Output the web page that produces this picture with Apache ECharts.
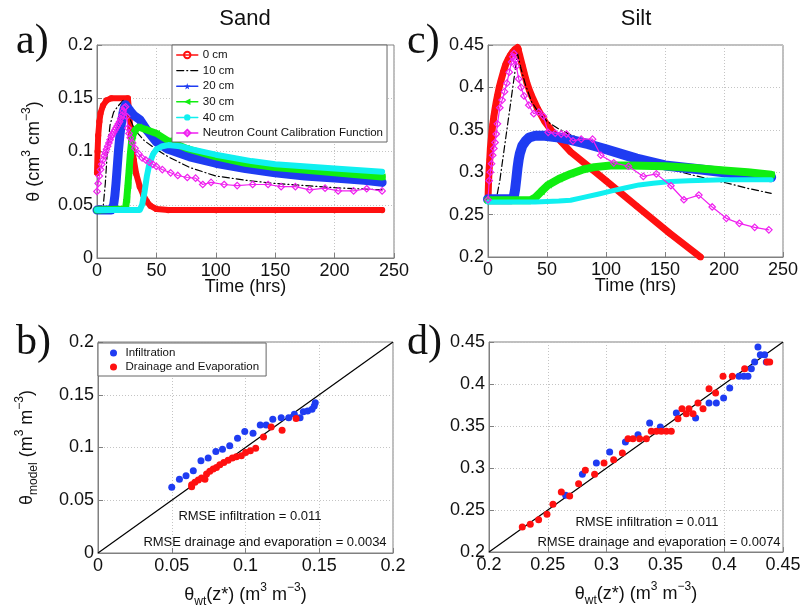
<!DOCTYPE html>
<html><head><meta charset="utf-8">
<script src="https://cdn.jsdelivr.net/npm/echarts@6/dist/echarts.min.js"></script>
<style>html,body{margin:0;padding:0;background:#fff}#c{width:806px;height:614px}</style>
</head><body><div id="c"></div>
<script>
// ---------- DATA ----------
const seriesNames = ['0 cm','10 cm','20 cm','30 cm','40 cm','Neutron Count Calibration Function'];
const scatterNames = ['Infiltration','Drainage and Evaporation'];
const timeTicks = [0, 250, 50];
const sandTicks = [0, 0.2, 0.05];
const siltTicks = [0.2, 0.45, 0.05];

const sand0 = [[0,0.08],[0.5,0.1],[1,0.115],[2,0.128],[3,0.136],[5,0.143],[8,0.148],[12,0.15],[26,0.15],[27,0.138],[28,0.122],[29,0.11],[31,0.092],[33,0.079],[36,0.067],[39,0.059],[42,0.053],[45,0.049],[50,0.046],[60,0.045],[100,0.045],[150,0.045],[200,0.045],[240,0.045]];
const sand10 = [[0,0.045],[5,0.046],[7,0.07],[9,0.105],[11,0.125],[14,0.137],[18,0.143],[22,0.148],[25,0.142],[28,0.13],[32,0.12],[40,0.11],[50,0.102],[60,0.095],[78,0.085],[100,0.077],[125,0.073],[150,0.07],[200,0.066],[240,0.064]];
const sand20 = [[0,0.045],[12,0.045],[14,0.05],[15,0.058],[16,0.07],[17,0.085],[18,0.1],[19,0.112],[20,0.122],[21,0.13],[22,0.137],[23,0.141],[24,0.144],[26,0.141],[28,0.138],[31,0.134],[36,0.13],[42,0.12],[50,0.109],[60,0.102],[78,0.095],[100,0.089],[125,0.084],[150,0.08],[175,0.077],[200,0.075],[225,0.073],[240,0.071]];
const sand30 = [[0,0.045],[24,0.046],[25,0.055],[26,0.068],[27,0.082],[28,0.097],[29,0.108],[30,0.115],[32,0.12],[35,0.123],[40,0.121],[50,0.117],[60,0.11],[75,0.103],[100,0.095],[125,0.089],[150,0.085],[200,0.08],[240,0.076]];
const sand40 = [[0,0.045],[36,0.045],[38,0.05],[40,0.062],[42,0.077],[44,0.088],[47,0.097],[50,0.102],[55,0.105],[60,0.106],[70,0.105],[80,0.102],[100,0.097],[130,0.091],[150,0.088],[200,0.084],[240,0.081]];
const sandNeutron = [[0,0.0625],[1,0.07],[2,0.077],[3,0.083],[4,0.088],[5,0.092],[6,0.096],[7,0.099],[8,0.102],[9,0.105],[10,0.108],[11,0.111],[12,0.114],[13,0.116],[14,0.118],[15,0.12],[16,0.122],[17,0.124],[18,0.126],[19,0.128],[20,0.131],[21,0.134],[22,0.138],[23,0.141],[24,0.142],[25,0.133],[26,0.122],[27,0.117],[28,0.113],[30,0.108],[32,0.103],[35,0.098],[38,0.094],[41,0.092],[44,0.09],[47,0.088],[50,0.086],[55,0.083],[62,0.08],[68,0.0775],[76,0.0756],[83,0.075],[89,0.069],[96,0.071],[107,0.069],[118,0.068],[131,0.069],[144,0.069],[155,0.067],[167,0.067],[179,0.064],[192,0.0656],[203,0.063],[216,0.063],[227,0.065],[240,0.063]];

const silt0 = [[0,0.267],[0.5,0.29],[1,0.305],[1.5,0.315],[2,0.328],[3,0.342],[4,0.356],[5,0.366],[6,0.375],[7,0.383],[8,0.39],[9.5,0.4],[11,0.408],[13,0.418],[15,0.427],[17,0.433],[19,0.438],[21,0.442],[23,0.445],[25,0.447],[26,0.445],[27,0.437],[29,0.426],[31,0.415],[33,0.405],[35,0.397],[37,0.39],[42,0.375],[48,0.36],[55,0.347],[62,0.336],[70,0.324],[85,0.307],[100,0.29],[126,0.26],[154,0.228],[180,0.2]];
const silt10 = [[0,0.265],[7,0.268],[10,0.29],[14,0.33],[18,0.37],[22,0.41],[25,0.44],[28,0.422],[32,0.402],[37,0.383],[43,0.37],[50,0.36],[60,0.351],[70,0.344],[85,0.336],[100,0.327],[125,0.316],[150,0.305],[175,0.296],[200,0.288],[220,0.281],[240,0.275]];
const silt20 = [[0,0.268],[20,0.268],[22,0.272],[23,0.28],[24,0.292],[25,0.305],[26,0.315],[27,0.322],[29,0.331],[32,0.337],[35,0.341],[40,0.343],[48,0.343],[60,0.341],[70,0.338],[85,0.333],[100,0.327],[126,0.316],[150,0.308],[175,0.304],[200,0.3],[220,0.297],[240,0.294]];
const silt30 = [[0,0.267],[36,0.267],[40,0.27],[45,0.277],[51,0.285],[60,0.292],[70,0.298],[80,0.303],[90,0.306],[104,0.308],[120,0.308],[150,0.307],[175,0.305],[200,0.302],[220,0.3],[240,0.297]];
const silt40 = [[0,0.265],[40,0.265],[60,0.266],[70,0.267],[80,0.27],[93,0.274],[105,0.278],[115,0.281],[128,0.285],[140,0.287],[155,0.289],[170,0.29],[200,0.291],[240,0.291]];
const siltNeutron = [[0,0.2675],[1,0.29],[2,0.3],[3,0.31],[4,0.32],[5,0.328],[6,0.335],[7,0.345],[8,0.357],[10,0.376],[12,0.385],[14,0.395],[16,0.405],[18,0.418],[20,0.43],[21,0.436],[22,0.44],[23,0.432],[24,0.425],[26,0.41],[28,0.4],[30.5,0.39],[34.6,0.379],[38.8,0.369],[43,0.371],[47,0.366],[51,0.347],[57,0.346],[62,0.345],[66.5,0.345],[72,0.337],[79,0.339],[88.6,0.339],[95.6,0.32],[106.6,0.311],[119,0.307],[131.6,0.295],[142.7,0.298],[155,0.284],[166,0.2675],[178.7,0.273],[190,0.259],[202,0.2456],[213,0.2397],[226,0.235],[238,0.232]];

const sandInfil = [[0.05,0.0623],[0.0552,0.0698],[0.0597,0.0733],[0.0646,0.078],[0.0698,0.0874],[0.0747,0.09],[0.0799,0.0962],[0.0844,0.0984],[0.0893,0.1016],[0.0946,0.1088],[0.0995,0.1151],[0.1051,0.1135],[0.11,0.1214],[0.114,0.1214],[0.1185,0.1267],[0.1242,0.1283],[0.1293,0.1283],[0.1331,0.1314],[0.137,0.1283],[0.1392,0.134],[0.1421,0.1346],[0.1451,0.1362],[0.1466,0.1393],[0.1473,0.1425]];
const sandDrain = [[0.0635,0.0629],[0.0635,0.0648],[0.0657,0.067],[0.068,0.0692],[0.0702,0.0711],[0.0725,0.0698],[0.0736,0.0748],[0.0758,0.0774],[0.0781,0.0796],[0.0803,0.0811],[0.0826,0.0836],[0.0853,0.0858],[0.0882,0.088],[0.0911,0.09],[0.0938,0.0912],[0.0972,0.0921],[0.1001,0.0953],[0.1033,0.0969],[0.1069,0.0994],[0.1122,0.11],[0.1174,0.1195],[0.1248,0.1164],[0.1343,0.1274]];
const siltInfil = [[0.2652,0.2675],[0.2794,0.2925],[0.2913,0.306],[0.3026,0.319],[0.316,0.331],[0.3267,0.3397],[0.3366,0.3536],[0.3457,0.3488],[0.3593,0.3655],[0.3757,0.3595],[0.3871,0.3774],[0.3933,0.3774],[0.3995,0.3833],[0.4047,0.3952],[0.4126,0.4091],[0.4166,0.4091],[0.4202,0.4091],[0.4231,0.4183],[0.4259,0.4262],[0.4287,0.444],[0.4307,0.4349],[0.4344,0.4349],[0.4358,0.4262]];
const siltDrain = [[0.2283,0.2298],[0.2351,0.2329],[0.2422,0.2385],[0.2493,0.2448],[0.2544,0.2567],[0.2615,0.2714],[0.2686,0.2667],[0.2762,0.2813],[0.2819,0.2972],[0.2898,0.2925],[0.2978,0.306],[0.306,0.3099],[0.3134,0.3179],[0.3182,0.3349],[0.3224,0.3349],[0.3281,0.3349],[0.3338,0.3349],[0.338,0.3437],[0.3423,0.3437],[0.3465,0.3437],[0.3508,0.3437],[0.355,0.3437],[0.3607,0.3587],[0.3641,0.3706],[0.3678,0.3647],[0.37,0.3706],[0.3735,0.3647],[0.3777,0.3774],[0.382,0.3706],[0.3871,0.3944],[0.3927,0.3893],[0.399,0.4091],[0.4069,0.4091],[0.4174,0.4183],[0.4364,0.4262],[0.4387,0.4262]];
const sandOneToOne = [0, 0.2];
const siltOneToOne = [0.2, 0.45];
const rmseSand = ['RMSE infiltration = 0.011', 'RMSE drainage and evaporation = 0.0034'];
const rmseSilt = ['RMSE infiltration = 0.011', 'RMSE drainage and evaporation = 0.0074'];

// ---------- STYLE ----------
const FONT = 'Liberation Sans';
const C = {red:'#ff1010', blue:'#1f3cf2', green:'#10ee10', cyan:'#10f0f0', magenta:'#f020f0', black:'#000'};
const STAR = 'path://M0,-10 L2.35,-3.24 9.51,-3.09 3.8,1.24 5.88,8.09 0,4 -5.88,8.09 -3.8,1.24 -9.51,-3.09 -2.35,-3.24 Z';
const LTRI = 'path://M10,0 L0,5 L10,10 Z';

const rich = {
  n:{fontSize:18, fontFamily:FONT, color:'#111', lineHeight:26},
  s:{fontSize:12, fontFamily:FONT, color:'#111', lineHeight:12, verticalAlign:'top'},
  b:{fontSize:12, fontFamily:FONT, color:'#111', lineHeight:12, verticalAlign:'bottom'}
};

const grids = [
  {left:97, top:45, width:297, height:213},
  {left:488, top:45, width:295, height:212},
  {left:98, top:342, width:295, height:211},
  {left:489, top:342, width:294, height:210}
].map(g => Object.assign(g, {show:true, borderColor:'#808080', borderWidth:1, backgroundColor:'#fff'}));

function axis(gi, ticks, extra){
  return Object.assign({
    type:'value', gridIndex:gi, min:ticks[0], max:ticks[1], interval:ticks[2],
    axisLine:{show:true, onZero:false, lineStyle:{color:'#808080'}},
    axisTick:{show:true, inside:true, length:5, lineStyle:{color:'#808080'}},
    axisLabel:{color:'#111', fontSize:18, fontFamily:FONT, margin:4},
    splitLine:{show:true, lineStyle:{color:'#c4c4c4', type:[1,2]}},
    nameLocation:'middle', nameMoveOverlap:false, nameTextStyle:{rich:rich}
  }, extra||{});
}

const xAxes = [
  axis(0, timeTicks, {name:'{n|Time (hrs)}', nameGap:16}),
  axis(1, timeTicks, {name:'{n|Time (hrs)}', nameGap:16}),
  axis(2, sandTicks, {name:'{n|θ}{b|wt}{n|(z*) (m}{s|3}{n| m}{s|−3}{n|)}', nameGap:29}),
  axis(3, siltTicks, {name:'{n|θ}{b|wt}{n|(z*) (m}{s|3}{n| m}{s|−3}{n|)}', nameGap:29})
];
const yAxes = [
  axis(0, sandTicks, {name:'{n|θ (cm}{s|3}{n| cm}{s|−3}{n|)}', nameGap:50}),
  axis(1, siltTicks),
  axis(2, sandTicks, {name:'{n|θ}{b|model}{n| (m}{s|3}{n| m}{s|−3}{n|)}', nameGap:58}),
  axis(3, siltTicks)
];

function profileSeries(gi, datasets, widths){
  const base = [
    {color:C.red, symbol:'circle', size:5, hollow:true},
    {color:C.black, symbol:'none', size:0, dash:[7,3,1,3]},
    {color:C.blue, symbol:STAR, size:7},
    {color:C.green, symbol:LTRI, size:7},
    {color:C.cyan, symbol:'circle', size:3},
    {color:C.magenta, symbol:'diamond', size:6.5, hollow:true}
  ];
  return datasets.map((d, i) => {
    const b = base[i];
    return {
      type:'line', name:seriesNames[i], xAxisIndex:gi, yAxisIndex:gi, data:d,
      symbol:b.symbol, symbolSize:b.size, showSymbol:b.symbol !== 'none',
      lineStyle:{color:b.color, width:widths[i], type:b.dash || 'solid', cap:'round', join:'round'},
      itemStyle: b.hollow ? {color:'rgba(255,255,255,0)', borderColor:b.color, borderWidth:1.2} : {color:b.color, borderWidth:0},
      animation:false, silent:true, z:2+i
    };
  });
}

const series = [].concat(
  profileSeries(0, [sand0, sand10, sand20, sand30, sand40, sandNeutron], [6,1.2,9,7,6,1.2]),
  profileSeries(1, [silt0, silt10, silt20, silt30, silt40, siltNeutron], [7,1.2,10,8,5,1.2])
);
[[2, sandOneToOne, sandInfil, sandDrain],[3, siltOneToOne, siltInfil, siltDrain]].forEach(([gi, oto, inf, dr]) => {
  series.push({type:'line', xAxisIndex:gi, yAxisIndex:gi, data:[[oto[0],oto[0]],[oto[1],oto[1]]], symbol:'none', lineStyle:{color:'#000', width:1.2}, animation:false, silent:true, z:2});
  series.push({type:'scatter', name:scatterNames[0], xAxisIndex:gi, yAxisIndex:gi, data:inf, symbol:'circle', symbolSize:7, itemStyle:{color:C.blue, opacity:1}, animation:false, silent:true, z:3});
  series.push({type:'scatter', name:scatterNames[1], xAxisIndex:gi, yAxisIndex:gi, data:dr, symbol:'circle', symbolSize:7, itemStyle:{color:C.red, opacity:1}, animation:false, silent:true, z:4});
});

const legendText = {fontSize:11.5, fontFamily:FONT, color:'#111'};
const legends = [
  {data: seriesNames.map(n => n === '10 cm'
      ? {name:n, lineStyle:{width:1.2}, itemStyle:{opacity:0}}
      : {name:n, lineStyle:{width:1.5}}),
   left:172, top:45, orient:'vertical',
   itemWidth:21, itemHeight:8, itemGap:3.6, padding:[4,4,3,4], borderColor:'#666', borderWidth:1,
   backgroundColor:'#fff', textStyle:legendText, selectedMode:false, z:10},
  {data: scatterNames, left:98, top:343, orient:'vertical', icon:'circle',
   itemWidth:14, itemHeight:7, itemGap:2, padding:[4,7,3,12], borderColor:'#666', borderWidth:1,
   backgroundColor:'#fff', textStyle:legendText, selectedMode:false, z:10}
];

function txt(x, y, s, font, align){
  return {type:'text', x:x, y:y, z:20, silent:true, style:{text:s, font:font, fill:'#111', align:align||'center', verticalAlign:'middle'}};
}
const graphic = [
  txt(245, 19, 'Sand', '22px ' + FONT),
  txt(636, 19, 'Silt', '22px ' + FONT),
  txt(16, 42, 'a)', '42px Liberation Serif', 'left'),
  txt(16, 343, 'b)', '42px Liberation Serif', 'left'),
  txt(407, 42, 'c)', '42px Liberation Serif', 'left'),
  txt(407, 343, 'd)', '42px Liberation Serif', 'left'),
  txt(250, 516, rmseSand[0], '13px ' + FONT),
  txt(265, 542, rmseSand[1], '13px ' + FONT),
  txt(647, 522, rmseSilt[0], '13px ' + FONT),
  txt(659, 542, rmseSilt[1], '13px ' + FONT)
];

const chart = echarts.init(document.getElementById('c'), null, {renderer:'canvas'});
chart.setOption({
  backgroundColor:'#fff', animation:false,
  grid:grids, xAxis:xAxes, yAxis:yAxes, series:series, legend:legends, graphic:graphic
});
</script></body></html>
